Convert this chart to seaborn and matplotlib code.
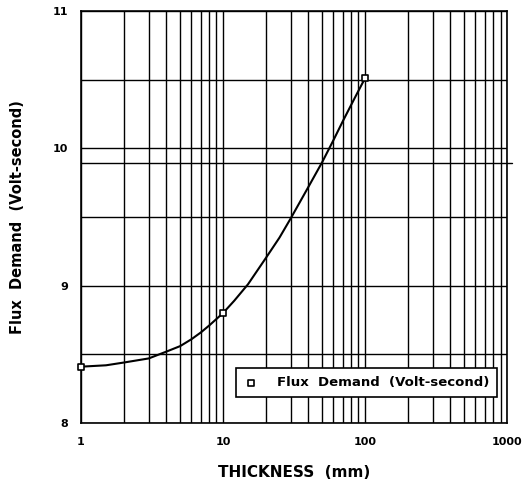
import numpy as np
import pandas as pd
import matplotlib
matplotlib.use("Agg")
import matplotlib.pyplot as plt
import seaborn as sns
from matplotlib.ticker import FixedLocator, NullFormatter

# measured points
thickness = [1, 10, 100]
flux = [8.41, 8.80, 10.51]

# smooth curve
curve_x = [1, 1.5, 2, 3, 4, 5, 6, 7, 8, 10, 12, 15, 20, 25, 30, 40, 50, 60, 70, 85, 100]
curve_y = [8.41, 8.42, 8.44, 8.47, 8.52, 8.56, 8.61, 8.66, 8.71, 8.80, 8.89, 9.01, 9.20,
           9.35, 9.49, 9.72, 9.90, 10.06, 10.20, 10.37, 10.51]

x_ticks = [1, 10, 100, 1000]
x_labels = ["1", "10", "100", "1000"]
y_ticks = [8, 9, 10, 11]
y_grid = [8.5, 9.5, 10.5]
extra_line = 9.89

sns.set_style("white")
plt.rcParams['font.family'] = ['DejaVu Sans']
plt.rcParams.update({"text.color": "black", "axes.labelcolor": "black",
                     "xtick.color": "black", "ytick.color": "black"})

fig = plt.figure(figsize=(5.31, 4.95), dpi=100)
ax = fig.add_axes([0.1525, 0.1455, 0.8023, 0.8323])

df_pts = pd.DataFrame({"x": thickness, "y": flux})
df_curve = pd.DataFrame({"x": curve_x, "y": curve_y})

sns.lineplot(data=df_curve, x="x", y="y", ax=ax, color="black", lw=1.5, zorder=3)
sns.scatterplot(data=df_pts, x="x", y="y", ax=ax, marker="s", s=22, facecolor="white",
                edgecolor="black", linewidth=1.2, zorder=4, clip_on=False,
                label="Flux  Demand  (Volt-second)")

ax.set_xscale("log")
ax.set_xlim(1, 1000)
ax.set_ylim(8, 11)

ax.xaxis.set_major_locator(FixedLocator(x_ticks))
ax.set_xticklabels(x_labels)
minor = [m * d for d in [1, 10, 100] for m in range(2, 10)]
ax.xaxis.set_minor_locator(FixedLocator(minor))
ax.xaxis.set_minor_formatter(NullFormatter())
ax.set_yticks(y_ticks)
ax.set_yticks(y_grid, minor=True)

ax.grid(True, which="both", color="black", lw=1.0)
ax.axhline(extra_line, xmin=0, xmax=1.012, color="black", lw=1.0, clip_on=False)

ax.tick_params(axis="x", which="both", direction="out", length=3, width=1, colors="black", pad=7)
ax.tick_params(axis="y", which="major", direction="out", length=4, width=1, pad=5, colors="black")
ax.tick_params(axis="y", which="minor", length=0)
for lab in ax.get_xticklabels() + ax.get_yticklabels():
    lab.set_fontweight("bold")
    lab.set_fontsize(8)

for s in ax.spines.values():
    s.set_color("black")
    s.set_linewidth(1.2)

ax.set_xlabel("THICKNESS  (mm)", fontsize=11, fontweight="bold", labelpad=13, color="black")
ax.set_ylabel("Flux  Demand  (Volt-second)", fontsize=10.5, fontweight="bold", labelpad=20,
              color="black")

leg = ax.legend(loc="lower right", bbox_to_anchor=(0.977, 0.063), frameon=True, fancybox=False,
                edgecolor="black", framealpha=1, fontsize=9.5, handlelength=1.0,
                borderpad=0.6, handletextpad=1.5, markerscale=0.8, borderaxespad=0)
leg.get_frame().set_linewidth(1.2)
for t in leg.get_texts():
    t.set_fontweight("bold")
    t.set_color("black")

fig.savefig("out.png", dpi=100)
